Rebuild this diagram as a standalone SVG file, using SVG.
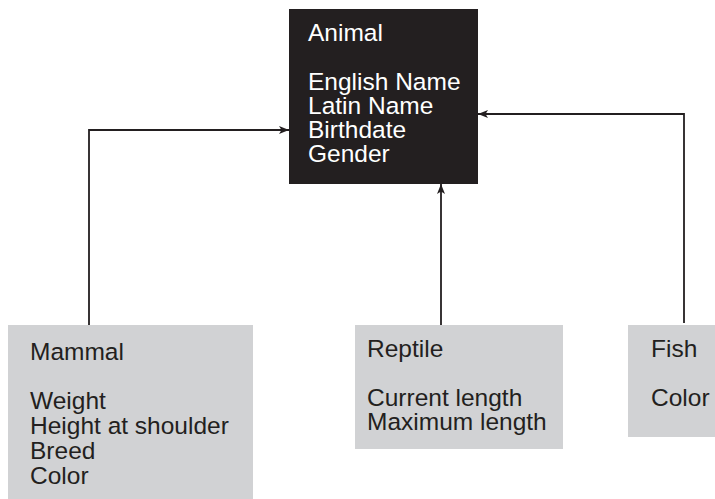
<svg xmlns="http://www.w3.org/2000/svg" width="715" height="499" viewBox="0 0 715 499">
  <style>
    .txt { font-family: "Liberation Sans", Arial, Helvetica, sans-serif; font-size: 24.5px; }
    .dark { fill: #231f20; }
    .light { fill: #d1d2d4; }
    .onDark { fill: #ffffff; }
    .onLight { fill: #231f20; }
    .conn { fill: none; stroke: #231f20; stroke-width: 1.8; marker-end: url(#arrow); }
  </style>
  <defs>
    <marker id="arrow" viewBox="0 0 10 8" refX="10" refY="4" markerWidth="10" markerHeight="8" markerUnits="userSpaceOnUse" orient="auto">
      <path d="M0,0 L10,4 L0,8 L2.5,4 Z" fill="#231f20"/>
    </marker>
  </defs>
  <rect width="715" height="499" fill="#ffffff"/>

  <!-- inheritance connectors -->
  <g id="connectors">
    <path class="conn" d="M89,325 V130 H289"/>
    <path class="conn" d="M441,325 V184"/>
    <path class="conn" d="M684,323 V114 H478"/>
  </g>

  <g id="animal">
    <rect class="dark" x="289" y="9" width="189" height="175"/>
    <text class="txt onDark" x="308" y="41">Animal</text>
    <text class="txt onDark" x="308" y="90">English Name</text>
    <text class="txt onDark" x="308" y="114">Latin Name</text>
    <text class="txt onDark" x="308" y="138">Birthdate</text>
    <text class="txt onDark" x="308" y="162">Gender</text>
  </g>

  <g id="mammal">
    <rect class="light" x="8" y="325" width="245" height="174"/>
    <text class="txt onLight" x="30" y="360">Mammal</text>
    <text class="txt onLight" x="30" y="409">Weight</text>
    <text class="txt onLight" x="30" y="434">Height at shoulder</text>
    <text class="txt onLight" x="30" y="459">Breed</text>
    <text class="txt onLight" x="30" y="484">Color</text>
  </g>

  <g id="reptile">
    <rect class="light" x="355" y="325" width="208" height="124"/>
    <text class="txt onLight" x="367" y="357">Reptile</text>
    <text class="txt onLight" x="367" y="406">Current length</text>
    <text class="txt onLight" x="367" y="430">Maximum length</text>
  </g>

  <g id="fish">
    <rect class="light" x="628" y="325" width="87" height="112"/>
    <text class="txt onLight" x="651" y="357">Fish</text>
    <text class="txt onLight" x="651" y="406">Color</text>
  </g>
</svg>
